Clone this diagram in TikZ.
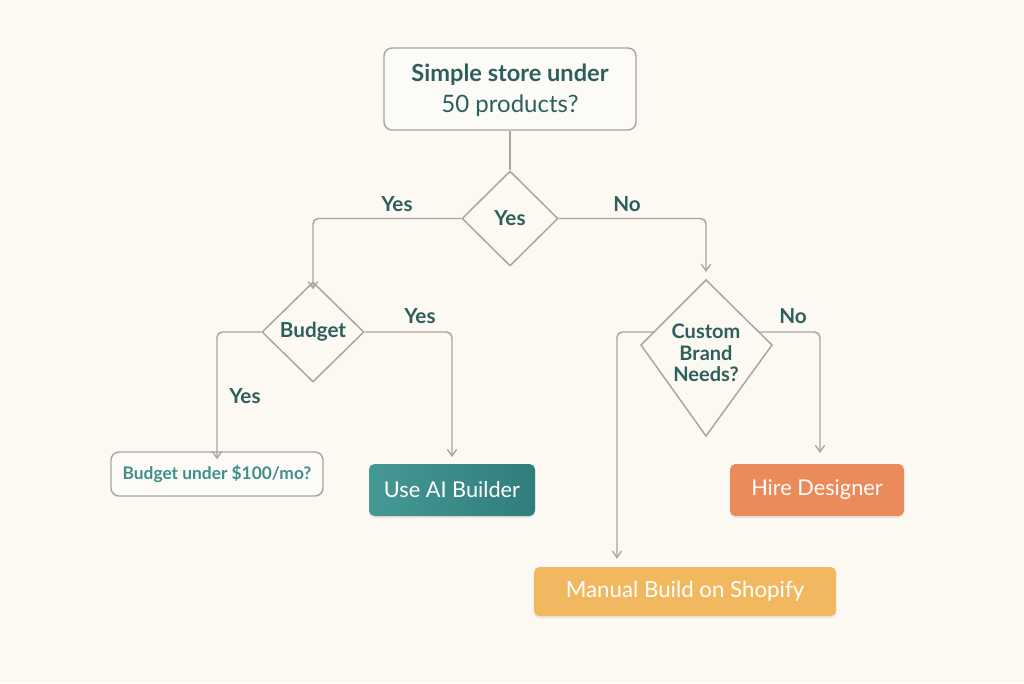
\documentclass[tikz,border=0pt]{standalone}
\usepackage{fontspec}
\setmainfont{Lato}
\usetikzlibrary{shapes.geometric,arrows.meta,shadows}
\definecolor{bg}{HTML}{FCF8F2}
\definecolor{ink}{HTML}{2D5F5D}
\definecolor{inklight}{HTML}{3E8E8A}
\definecolor{linec}{HTML}{A8A6A2}
\definecolor{tealA}{HTML}{459995}
\definecolor{tealB}{HTML}{307D7C}
\definecolor{orangeB}{HTML}{EB8A5A}
\definecolor{yellowB}{HTML}{F2B85F}
\tikzset{
  conn/.style={draw=linec, line width=1.1pt, rounded corners=4pt, -{Straight Barb[length=5pt,width=7pt,line width=1pt]}},
  plain/.style={draw=linec, line width=1.1pt},
  qbox/.style={draw=linec, line width=1.1pt, fill=bg!60!white, rounded corners=6pt, align=center, text=ink, inner sep=0pt},
  dia/.style={diamond, draw=linec, line width=1.1pt, fill=bg, inner sep=0pt, text=ink, font=\bfseries\fontsize{15.5}{18}\selectfont},
  lbl/.style={text=ink, font=\bfseries\fontsize{15.5}{18}\selectfont},
  endbox/.style={rounded corners=4pt, inner sep=0pt, text=white, font=\fontsize{16.3}{19}\selectfont, drop shadow={opacity=0.15, shadow xshift=0pt, shadow yshift=-1.5pt}},
}
\begin{document}
\begin{tikzpicture}[x=0.75pt,y=-0.75pt]
\fill[bg] (0,0) rectangle (1024,683);
\useasboundingbox (0,0) rectangle (1024,683);

% top question
\node[qbox, minimum width=189pt, minimum height=61.5pt] (top) at (510,89) {};
\node[text=ink, font=\bfseries\fontsize{17.7}{20}\selectfont] (t1) at (510,75) {Simple store under};
\node[text=ink, font=\fontsize{18}{20}\selectfont] (t2) at (510,106) {50 products?};

% diamond 1
\node[dia, minimum width=72pt, minimum height=71.25pt] (d1) at (510,218.5) {Yes};
\draw[plain] (top.south) -- (d1.north);

% diamond 2
\node[dia, minimum width=76.5pt, minimum height=75pt] (d2) at (313,332) {Budget};

% kite
\coordinate (kt) at (706,280);
\coordinate (kl) at (641,345);
\coordinate (kr) at (772,345);
\coordinate (kb) at (706,436);
\draw[plain, fill=bg] (kt) -- (kr) -- (kb) -- (kl) -- cycle;
\node[text=ink, align=center, font=\bfseries\fontsize{15}{16}\selectfont] (d3) at (706,353) {Custom\\Brand\\Needs?};
\coordinate (kle) at (654,332);
\coordinate (kre) at (759,332);

% leaves
\node[qbox, minimum width=159pt, minimum height=33pt, text=inklight, font=\bfseries\fontsize{13}{15}\selectfont] (bud) at (217,474) {Budget under \$100/mo?};
\node[endbox, left color=tealA, right color=tealB, minimum width=124.5pt, minimum height=39pt] (ai) at (452,490) {Use AI Builder};
\node[endbox, fill=orangeB, minimum width=130.5pt, minimum height=39pt] (hire) at (817,490) {Hire Designer};
\node[endbox, fill=yellowB, minimum width=226.5pt, minimum height=36.75pt, font=\fontsize{16.7}{19}\selectfont] (man) at (685,591.5) {Manual Build on Shopify};

% connectors
\draw[conn] (d1.west) -| ([yshift=-6pt]d2.north) ;
\draw[conn] (d1.east) -| ([yshift=6pt]kt);
\draw[conn] (d2.west) -| ([yshift=-6pt]bud.north -| 217,0);
\draw[conn] (d2.east) -| ([yshift=5pt]ai.north);
\draw[conn] (kle) -| ([yshift=6pt]man.north -| 617,0);
\draw[conn] (kre) -| ([yshift=8pt]hire.north -| 820,0);

% labels
\node[lbl] (l1) at (397,204) {Yes};
\node[lbl] (l2) at (627,204) {No};
\node[lbl] (l3) at (245,396) {Yes};
\node[lbl] (l4) at (420,316) {Yes};
\node[lbl] (l5) at (793,316) {No};
\end{tikzpicture}
\end{document}
